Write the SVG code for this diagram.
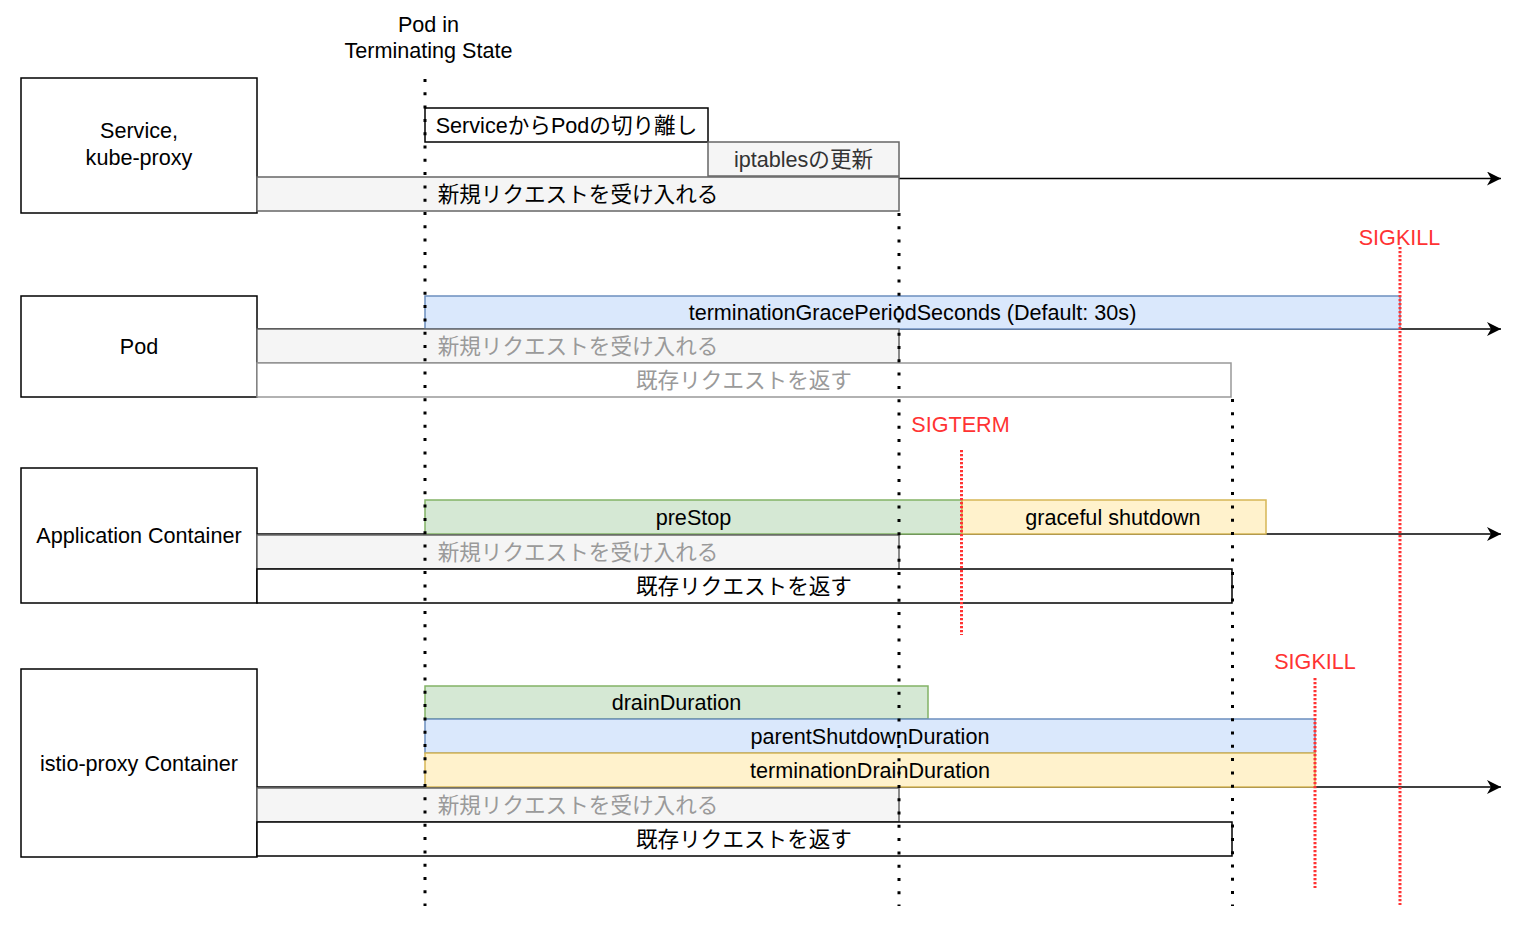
<svg xmlns="http://www.w3.org/2000/svg" width="1527" height="925" viewBox="0 0 1527 925">
<style>
text{font-family:"Liberation Sans","Noto Sans CJK JP",sans-serif;font-size:21.6px;fill:#000;text-anchor:middle}
.red{fill:#ff3333}
.gt{fill:#9a9a9a}
.box{fill:#fff;stroke:#000;stroke-width:1.5}
.gray{fill:#f5f5f5;stroke:#666;stroke-width:1.5}
.white{fill:#fff;stroke:#000;stroke-width:1.5}
.whiteg{fill:#fff;stroke:#999;stroke-width:1.5}
.blue{fill:#dae8fc;stroke:#6c8ebf;stroke-width:1.5}
.green{fill:#d5e8d4;stroke:#82b366;stroke-width:1.5}
.yellow{fill:#fff2cc;stroke:#d6b656;stroke-width:1.5}
.arrow{stroke:#000;stroke-width:1.7;fill:none;marker-end:url(#ah)}
.dot{stroke:#000;stroke-width:3;stroke-dasharray:3 10.3;fill:none}
.rdot{stroke:#ff3333;stroke-width:3;stroke-dasharray:2.2 1.8;fill:none}
</style>
<defs>
<marker id="ah" markerUnits="userSpaceOnUse" markerWidth="16" markerHeight="16" refX="14" refY="7" orient="auto">
<path d="M0,0 L14,7 L0,14 L4,7 z" fill="#000"/>
</marker>
</defs>
<rect width="1527" height="925" fill="#fff"/>

<g id="connectors">
<line class="arrow" x1="257" y1="178.5" x2="1501" y2="178.5"/>
<line class="arrow" x1="257" y1="329" x2="1501" y2="329"/>
<line class="arrow" x1="257" y1="534" x2="1501" y2="534"/>
<line class="arrow" x1="257" y1="787" x2="1501" y2="787"/>
</g>

<g id="title">
<text x="428.5" y="31.5">Pod in</text>
<text x="428.5" y="58">Terminating State</text>
</g>

<g id="node-service">
<rect class="box" x="21" y="78" width="236" height="135"/>
<text x="139" y="138">Service,</text>
<text x="139" y="165">kube-proxy</text>
</g>
<g id="node-pod">
<rect class="box" x="21" y="296" width="236" height="101"/>
<text x="139" y="354">Pod</text>
</g>
<g id="node-app">
<rect class="box" x="21" y="468" width="236" height="135"/>
<text x="139" y="543">Application Container</text>
</g>
<g id="node-istio">
<rect class="box" x="21" y="669" width="236" height="188"/>
<text x="139" y="770.5">istio-proxy Container</text>
</g>

<g id="bar-detach">
<rect class="white" x="425" y="108" width="283" height="34"/>
<text x="566.5" y="132.6">ServiceからPodの切り離し</text>
</g>
<g id="bar-iptables">
<rect class="gray" x="708" y="142" width="191" height="34"/>
<text x="803.5" y="166.6" style="fill:#333">iptablesの更新</text>
</g>
<g id="bar-svc-accept">
<rect class="gray" x="257" y="177" width="642" height="34"/>
<text x="578" y="201.6">新規リクエストを受け入れる</text>
</g>

<g id="bar-tgps">
<rect class="blue" x="425" y="296" width="975" height="33"/>
<text x="912.5" y="320">terminationGracePeriodSeconds (Default: 30s)</text>
</g>
<g id="bar-pod-accept">
<rect class="gray" x="257" y="329" width="642" height="34"/>
<text class="gt" x="578" y="353.6">新規リクエストを受け入れる</text>
</g>
<g id="bar-pod-return">
<rect class="whiteg" x="257" y="363" width="974" height="34"/>
<text class="gt" x="744" y="387.6">既存リクエストを返す</text>
</g>

<g id="bar-prestop">
<rect class="green" x="425" y="500" width="537" height="34"/>
<text x="693.5" y="524.6">preStop</text>
</g>
<g id="bar-graceful">
<rect class="yellow" x="962" y="500" width="304" height="34"/>
<text x="1113" y="524.6">graceful shutdown</text>
</g>
<g id="bar-app-accept">
<rect class="gray" x="257" y="535" width="642" height="34"/>
<text class="gt" x="578" y="559.6">新規リクエストを受け入れる</text>
</g>
<g id="bar-app-return">
<rect class="white" x="257" y="569" width="975" height="34"/>
<text x="744" y="593.6">既存リクエストを返す</text>
</g>

<g id="bar-drain">
<rect class="green" x="425" y="686" width="503" height="33"/>
<text x="676.5" y="710">drainDuration</text>
</g>
<g id="bar-parent">
<rect class="blue" x="425" y="719" width="890" height="34"/>
<text x="870" y="743.6">parentShutdownDuration</text>
</g>
<g id="bar-termdrain">
<rect class="yellow" x="425" y="753" width="890" height="34"/>
<text x="870" y="777.6">terminationDrainDuration</text>
</g>
<g id="bar-istio-accept">
<rect class="gray" x="257" y="788" width="642" height="34"/>
<text class="gt" x="578" y="812.6">新規リクエストを受け入れる</text>
</g>
<g id="bar-istio-return">
<rect class="white" x="257" y="822" width="975" height="34"/>
<text x="744" y="846.6">既存リクエストを返す</text>
</g>

<g id="timelines">
<line class="dot" x1="425" y1="79" x2="425" y2="906"/>
<line class="dot" x1="899" y1="213" x2="899" y2="906"/>
<line class="dot" x1="1232.5" y1="399" x2="1232.5" y2="906"/>
</g>

<g id="signals">
<line class="rdot" x1="961.5" y1="450" x2="961.5" y2="635"/>
<text class="red" x="960.5" y="431.5">SIGTERM</text>
<line class="rdot" x1="1400" y1="247" x2="1400" y2="905"/>
<text class="red" x="1399.5" y="245">SIGKILL</text>
<line class="rdot" x1="1315" y1="678" x2="1315" y2="888"/>
<text class="red" x="1315" y="668.5">SIGKILL</text>
</g>
</svg>
